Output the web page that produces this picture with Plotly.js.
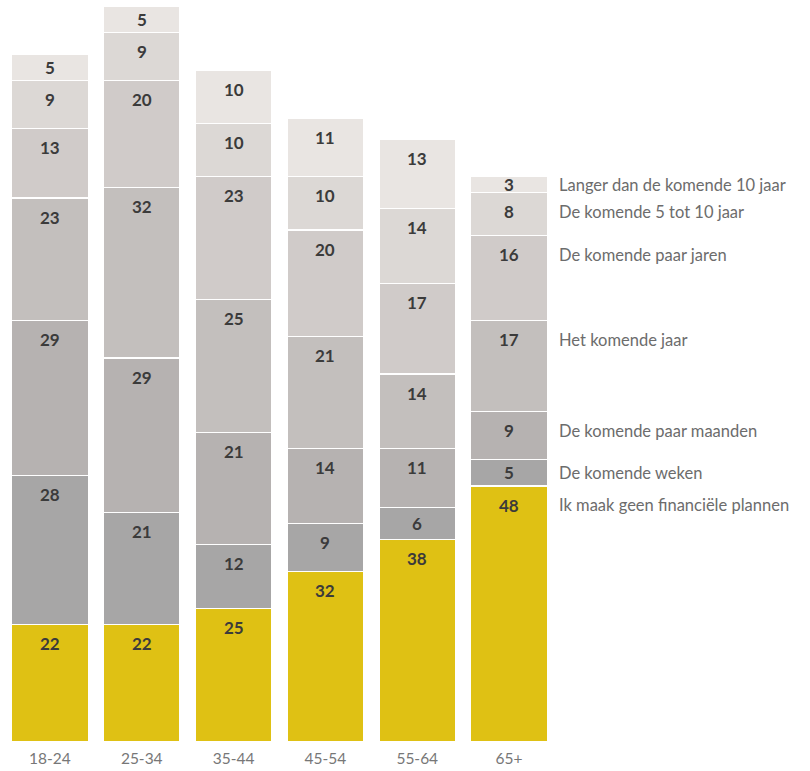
<!DOCTYPE html>
<html>
<head>
<meta charset="utf-8">
<script src="https://cdn.plot.ly/plotly-3.0.1.min.js"></script>
<style>html,body{margin:0;padding:0;background:#fff;}#chart{width:810px;height:771px;}</style>
</head>
<body>
<div id="chart"></div>
<script>
const categories = ['18-24', '25-34', '35-44', '45-54', '55-64', '65+'];
const seriesNames = [
  'Ik maak geen financiële plannen',
  'De komende weken',
  'De komende paar maanden',
  'Het komende jaar',
  'De komende paar jaren',
  'De komende 5 tot 10 jaar',
  'Langer dan de komende 10 jaar'
];
const geenPlannen   = [22, 22, 25, 32, 38, 48];
const weken         = [28, 21, 12, 9, 6, 5];
const paarMaanden   = [29, 29, 21, 14, 11, 9];
const komendJaar    = [23, 32, 25, 21, 14, 17];
const paarJaren     = [13, 20, 23, 20, 17, 16];
const vijfTotTien   = [9, 9, 10, 10, 14, 8];
const langerDanTien = [5, 5, 10, 11, 13, 3];
const colors = ['#DFC114', '#A7A6A6', '#B6B2B1', '#C3BFBD', '#D0CBC9', '#DCD8D5', '#E9E5E2'];

const series = [geenPlannen, weken, paarMaanden, komendJaar, paarJaren, vijfTotTien, langerDanTien];

const traces = series.map((vals, i) => ({
  type: 'bar',
  name: seriesNames[i],
  x: categories,
  y: vals,
  marker: {color: colors[i], line: {color: '#ffffff', width: 1.5}},
  hoverinfo: 'x+y+name'
}));

const annotations = [];
const labelOffset = 3.6;
const base = categories.map(() => 0);
series.forEach((vals, i) => {
  vals.forEach((v, j) => {
    const top = base[j] + v;
    const yPos = top - Math.min(v / 2, labelOffset);
    annotations.push({
      x: categories[j], y: yPos, xref: 'x', yref: 'y',
      text: '<b>' + v + '</b>', showarrow: false,
      xanchor: 'center', yanchor: 'middle',
      font: {family: 'Lato, sans-serif', size: 17, color: '#3b3b3b'}
    });
    if (j === categories.length - 1) {
      annotations.push({
        x: 1, y: yPos, xref: 'paper', yref: 'y',
        text: seriesNames[i], showarrow: false,
        xanchor: 'left', yanchor: 'middle', xshift: 2,
        font: {family: 'Lato, sans-serif', size: 16.5, color: '#6c6c6c'}
      });
    }
    base[j] = top;
  });
});

const layout = {
  width: 810, height: 771,
  margin: {l: 3.5, r: 254.5, t: 6, b: 29},
  barmode: 'stack',
  bargap: 0.163,
  showlegend: false,
  paper_bgcolor: '#ffffff',
  plot_bgcolor: '#ffffff',
  xaxis: {
    type: 'category',
    showgrid: false, zeroline: false, showline: false, ticks: '',
    ticklabelstandoff: 5,
    tickfont: {family: 'Lato, sans-serif', size: 15.5, color: '#777777'},
    fixedrange: true
  },
  yaxis: {
    range: [0, 138],
    visible: false, showgrid: false, zeroline: false, fixedrange: true
  },
  annotations: annotations
};

Plotly.newPlot('chart', traces, layout, {displayModeBar: false, staticPlot: true});
</script>
</body>
</html>
